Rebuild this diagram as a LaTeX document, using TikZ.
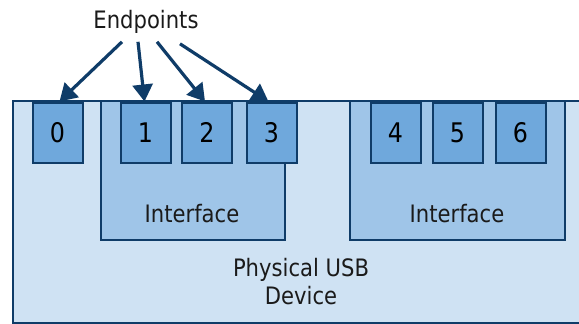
\documentclass[tikz,border=0pt]{standalone}
\usepackage{fontspec}
\setmainfont{DejaVu Sans}[FakeStretch=0.88]
\usetikzlibrary{arrows.meta}
\definecolor{devfill}{HTML}{CFE2F3}
\definecolor{iffill}{HTML}{9FC5E8}
\definecolor{epfill}{HTML}{6FA8DC}
\definecolor{bord}{HTML}{0F3C68}
\definecolor{txt}{HTML}{1A1A1A}
\tikzset{
  epbox/.style={draw=bord, fill=epfill, line width=2pt, minimum width=50pt, minimum height=60pt, inner sep=0pt, font=\fontsize{27}{27}\selectfont, text=black},
  ifbox/.style={draw=bord, fill=iffill, line width=2pt, inner sep=0pt},
  lbl/.style={text=txt, inner sep=0pt, font=\fontsize{24}{28}\selectfont, align=center},
  arr/.style={draw=bord, line width=3.2pt, -{Triangle[length=17pt,width=20pt]}, shorten >=0pt}
}
\begin{document}
\begin{tikzpicture}[x=1pt,y=-1pt]
\useasboundingbox (0,0) rectangle (579,324);
\clip (0,0) rectangle (579,324);
\fill[white] (0,0) rectangle (579,324);
% device
\node[draw=bord, fill=devfill, line width=2pt, inner sep=0pt, minimum width=590pt, minimum height=222pt, anchor=north west] (dev) at (12,100) {};
% interfaces
\node[ifbox, minimum width=184pt, minimum height=139pt, anchor=north west] (if1) at (100,100) {};
\node[ifbox, minimum width=215pt, minimum height=139pt, anchor=north west] (if2) at (349,100) {};
% endpoints
\node[epbox] (e0) at (57.5,132.5) {0};
\node[epbox] (e1) at (145.5,132.5) {1};
\node[epbox] (e2) at (207,132.5) {2};
\node[epbox] (e3) at (271.5,132.5) {3};
\node[epbox] (e4) at (395.5,132.5) {4};
\node[epbox] (e5) at (457.5,132.5) {5};
\node[epbox] (e6) at (520.5,132.5) {6};
% labels
\node[lbl] (l1) at (192,214) {Interface};
\node[lbl] (l2) at (457,214) {Interface};
\node[lbl, font=\fontsize{24}{28}\selectfont] (pdev) at (301,282) {Physical USB\\Device};
\node[lbl] (ep) at (146,22) {Endpoints};
% arrows
\draw[arr] ([xshift=-24pt,yshift=-8pt]ep.south) -- ([xshift=2pt]e0.north);
\draw[arr] ([xshift=-8pt,yshift=-8pt]ep.south) -- ([xshift=-1pt]e1.north);
\draw[arr] ([xshift=11pt,yshift=-8pt]ep.south) -- ([xshift=-2pt]e2.north);
\draw[arr] ([xshift=34pt,yshift=-10pt]ep.south) -- ([xshift=-3pt]e3.north);
\end{tikzpicture}
\end{document}
